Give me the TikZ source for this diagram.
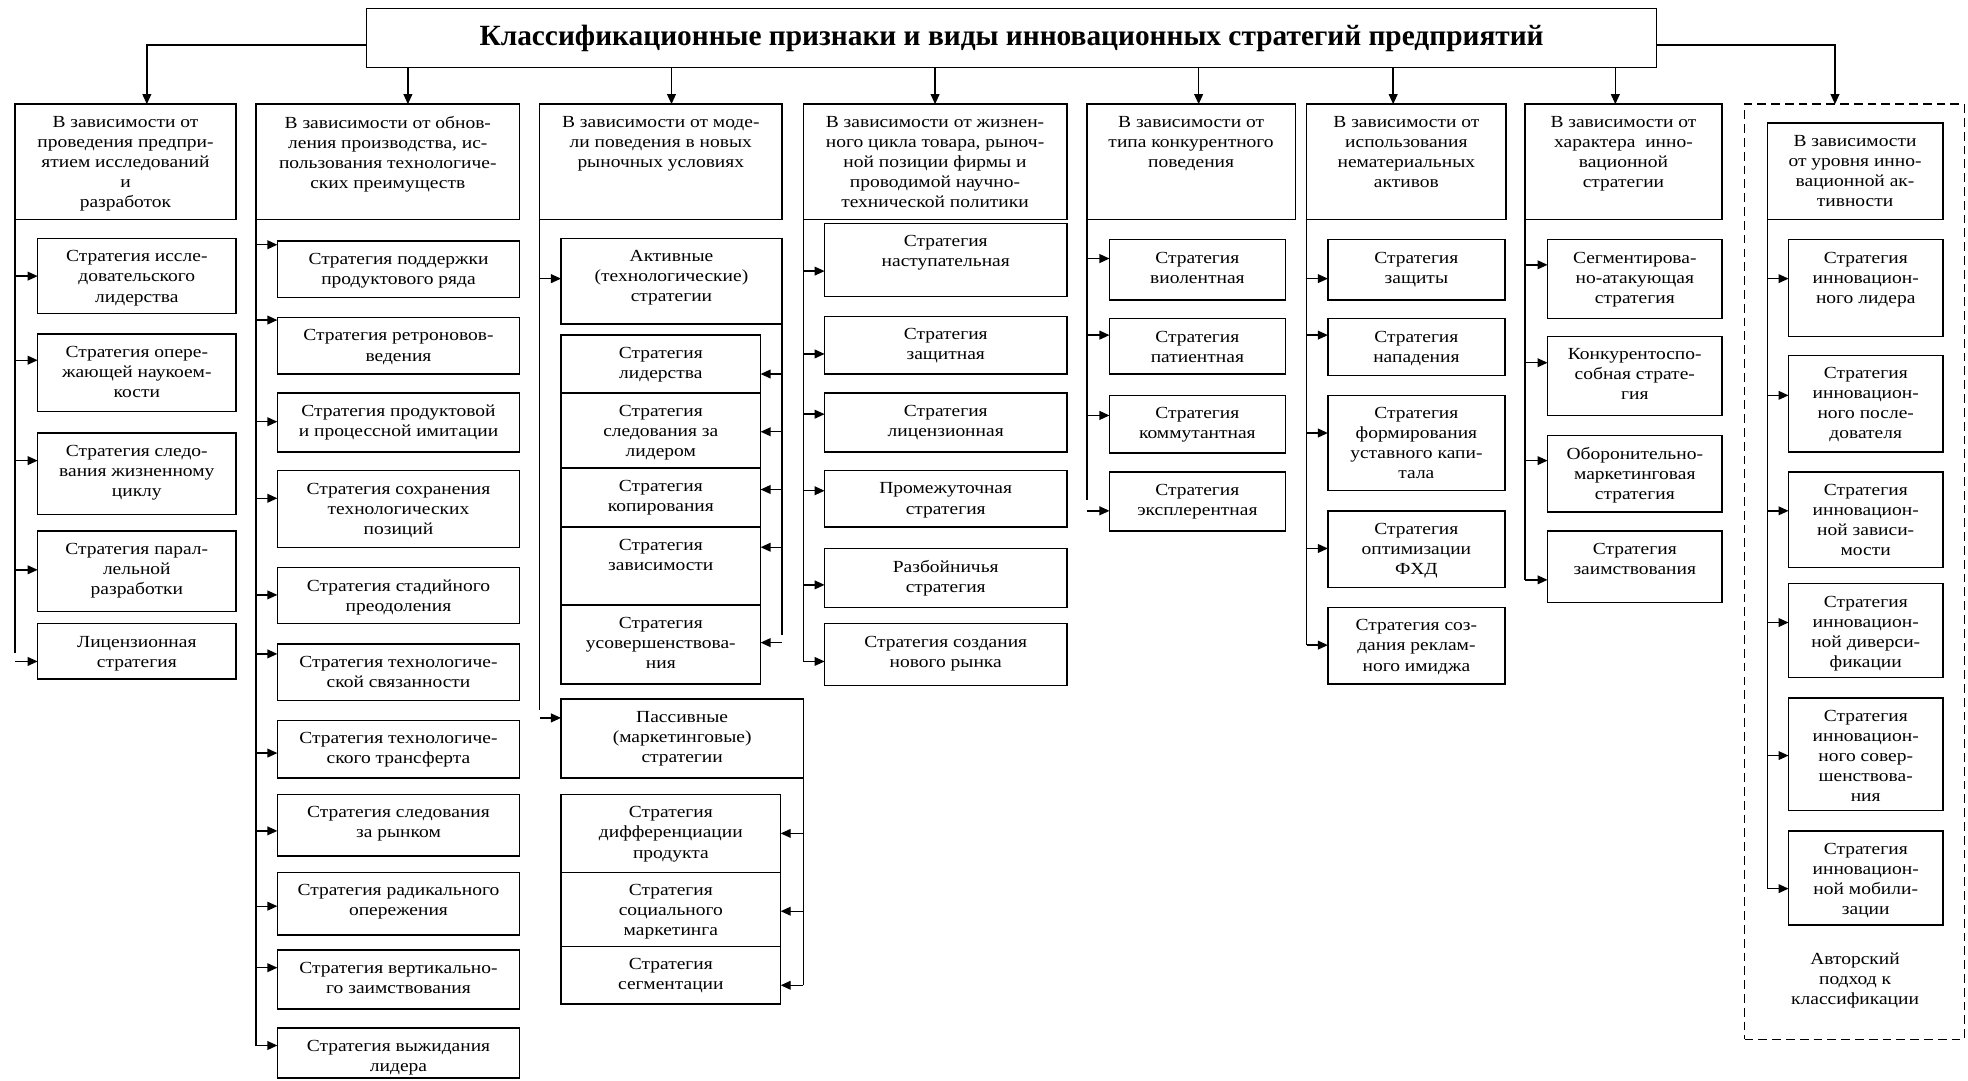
\documentclass[tikz,border=0pt]{standalone}
\usepackage{fontspec}
\setmainfont{Liberation Serif}
\newfontfamily\bodyfont{Liberation Serif}[FakeStretch=1.15]
\usetikzlibrary{arrows.meta}
\tikzset{
  box/.style={draw, line width=1.1pt, inner sep=0pt, outer sep=0pt, anchor=north west},
  txt/.style={align=center, inner sep=0pt, anchor=north, font=\bodyfont\fontsize{13.5}{16}\selectfont},
  arr/.style={line width=1.1pt, -{Triangle[length=8pt,width=7pt]}},
  ln/.style={line width=1.1pt},
}
\newcommand\bx[6]{%
  \node[box, minimum width={(#4)-(#2)}, minimum height={(#5)-(#3)}] (#1) at (#2,#3) {};
  \node[txt] (#1t) at ([yshift=-9.5pt]#1.north) {#6};
}
\newcommand\rarr[3]{\draw[arr] (#1 |- 0,#3) -- (#2.west |- 0,#3);}
\newcommand\larr[3]{\draw[arr] (#1 |- 0,#3) -- (#2.east |- 0,#3);}
\begin{document}
\begin{tikzpicture}[x=1pt,y=-1pt]
\useasboundingbox (0,0) rectangle (1568,861);
% title
\node[box, minimum width=1028, minimum height=47] (title) at (292,7) {};
\node[font=\fontsize{23.4}{27}\selectfont\bfseries, inner sep=0pt] (titlet) at (title.center) {Классификационные признаки и виды инновационных стратегий предприятий};
% column 1
\bx{h1}{12}{83}{188}{175}{В зависимости от\\проведения предпри-\\ятием исследований\\и\\разработок}
\bx{a1}{30}{190}{188}{250}{Стратегия иссле-\\довательского\\лидерства}
\bx{a2}{30}{266}{188}{328}{Стратегия опере-\\жающей наукоем-\\кости}
\bx{a3}{30}{345}{188}{410}{Стратегия следо-\\вания жизненному\\циклу}
\bx{a4}{30}{423}{188}{487}{Стратегия парал-\\лельной\\разработки}
\bx{a5}{30}{497}{188}{541}{Лицензионная\\стратегия}
% column 2
\bx{h2}{204}{83}{414}{175}{В зависимости от обнов-\\ления производства, ис-\\пользования технологиче-\\ских преимуществ}
\bx{b1}{221}{192}{414}{237}{Стратегия поддержки\\продуктового ряда}
\bx{b2}{221}{253}{414}{298}{Стратегия ретроновов-\\ведения}
\bx{b3}{221}{313}{414}{360}{Стратегия продуктовой\\и процессной имитации}
\bx{b4}{221}{375}{414}{436}{Стратегия сохранения\\технологических\\позиций}
\bx{b5}{221}{452}{414}{497}{Стратегия стадийного\\преодоления}
\bx{b6}{221}{513}{414}{558}{Стратегия технологиче-\\ской связанности}
\bx{b7}{221}{574}{414}{620}{Стратегия технологиче-\\ского трансферта}
\bx{b8}{221}{633}{414}{682}{Стратегия следования\\за рынком}
\bx{b9}{221}{695}{414}{745}{Стратегия радикального\\опережения}
\bx{b10}{221}{757}{414}{804}{Стратегия вертикально-\\го заимствования}
\bx{b11}{221}{819}{414}{859}{Стратегия выжидания\\лидера}
% column 3
\bx{h3}{430}{83}{623}{175}{В зависимости от моде-\\ли поведения в новых\\рыночных условиях}
\bx{act}{447}{190}{623}{258}{Активные\\(технологические)\\стратегии}
\bx{s1}{447}{267}{606}{313}{Стратегия\\лидерства}
\bx{s2}{447}{313}{606}{373}{Стратегия\\следования за\\лидером}
\bx{s3}{447}{373}{606}{420}{Стратегия\\копирования}
\bx{s4}{447}{420}{606}{482}{Стратегия\\зависимости}
\bx{s5}{447}{482}{606}{545}{Стратегия\\усовершенствова-\\ния}
\bx{pas}{447}{557}{640}{620}{Пассивные\\(маркетинговые)\\стратегии}
\bx{p1}{447}{633}{622}{695}{Стратегия\\дифференциации\\продукта}
\bx{p2}{447}{695}{622}{754}{Стратегия\\социального\\маркетинга}
\bx{p3}{447}{754}{622}{800}{Стратегия\\сегментации}
% column 4
\bx{h4}{640}{83}{850}{175}{В зависимости от жизнен-\\ного цикла товара, рыноч-\\ной позиции фирмы и\\проводимой научно-\\технической политики}
\bx{d1}{657}{178}{850}{236}{Стратегия\\наступательная}
\bx{d2}{657}{252}{850}{298}{Стратегия\\защитная}
\bx{d3}{657}{313}{850}{360}{Стратегия\\лицензионная}
\bx{d4}{657}{375}{850}{420}{Промежуточная\\стратегия}
\bx{d5}{657}{437}{850}{484}{Разбойничья\\стратегия}
\bx{d6}{657}{497}{850}{546}{Стратегия создания\\нового рынка}
% column 5
\bx{h5}{866}{83}{1032}{175}{В зависимости от\\типа конкурентного\\поведения}
\bx{e1}{884}{191}{1024}{239}{Стратегия\\виолентная}
\bx{e2}{884}{254}{1024}{298}{Стратегия\\патиентная}
\bx{e3}{884}{315}{1024}{361}{Стратегия\\коммутантная}
\bx{e4}{884}{376}{1024}{423}{Стратегия\\эксплерентная}
% column 6
\bx{h6}{1041}{83}{1200}{175}{В зависимости от\\использования\\нематериальных\\активов}
\bx{f1}{1058}{191}{1199}{239}{Стратегия\\защиты}
\bx{f2}{1058}{254}{1199}{299}{Стратегия\\нападения}
\bx{f3}{1058}{315}{1199}{391}{Стратегия\\формирования\\уставного капи-\\тала}
\bx{f4}{1058}{407}{1199}{468}{Стратегия\\оптимизации\\ФХД}
\bx{f5}{1058}{484}{1199}{545}{Стратегия соз-\\дания реклам-\\ного имиджа}
% column 7
\bx{h7}{1215}{83}{1372}{175}{В зависимости от\\характера \ инно-\\вационной\\стратегии}
\bx{g1}{1233}{191}{1372}{254}{Сегментирова-\\но-атакующая\\стратегия}
\bx{g2}{1233}{268}{1372}{331}{Конкурентоспо-\\собная страте-\\гия}
\bx{g3}{1233}{347}{1372}{408}{Оборонительно-\\маркетинговая\\стратегия}
\bx{g4}{1233}{423}{1372}{480}{Стратегия\\заимствования}
% column 8
\node[box, dash pattern=on 7pt off 4pt, minimum width=175, minimum height=745] (grp) at (1390,83) {};
\bx{h8}{1408}{98}{1548}{175}{В зависимости\\от уровня инно-\\вационной ак-\\тивности}
\bx{k1}{1425}{191}{1548}{268}{Стратегия\\инновацион-\\ного лидера}
\bx{k2}{1425}{283}{1548}{360}{Стратегия\\инновацион-\\ного после-\\дователя}
\bx{k3}{1425}{376}{1548}{452}{Стратегия\\инновацион-\\ной зависи-\\мости}
\bx{k4}{1425}{465}{1548}{540}{Стратегия\\инновацион-\\ной диверси-\\фикации}
\bx{k5}{1425}{556}{1548}{646}{Стратегия\\инновацион-\\ного совер-\\шенствова-\\ния}
\bx{k6}{1425}{662}{1548}{737}{Стратегия\\инновацион-\\ной мобили-\\зации}
\node[txt] (auth) at (1478,759) {Авторский\\подход к\\классификации};
% top connectors
\draw[arr] (title.west |- 0,36) -| (h1.north -| 117,0);
\draw[arr] (title.east |- 0,36) -| (grp.north -| 1462,0);
\foreach \xx/\hh in {325/h2,535/h3,745/h4,955/h5,1110/h6,1287/h7}
  {\draw[arr] (title.south -| \xx,0) -- (\hh.north -| \xx,0);}
% column 1 connectors
\draw[ln] (h1.south west) -- (h1.south west |- 0,520);
\rarr{h1.south west}{a1}{220}
\rarr{h1.south west}{a2}{287}
\rarr{h1.south west}{a3}{367}
\rarr{h1.south west}{a4}{454}
\rarr{h1.south west}{a5}{527}
% column 2 connectors
\draw[ln] (h2.south west) -- (h2.south west |- 0,833);
\foreach \nn/\yy in {b1/195,b2/255,b3/336,b4/397,b5/474,b6/521,b7/600,b8/662,b9/722,b10/771,b11/833}
  {\rarr{h2.south west}{\nn}{\yy}}
% column 3 connectors
\draw[ln] (h3.south west) -- (h3.south west |- 0,566);
\rarr{h3.south west}{act}{222}
\rarr{h3.south west}{pas}{572}
\draw[ln] (act.south east) -- (act.south east |- 0,506);
\foreach \nn/\yy in {s1/298,s2/344,s3/390,s4/436,s5/512}
  {\larr{act.south east}{\nn}{\yy}}
\draw[ln] (pas.south east) -- (pas.south east |- 0,785);
\foreach \nn/\yy in {p1/664,p2/726,p3/785}
  {\larr{pas.south east}{\nn}{\yy}}
% column 4 connectors
\draw[ln] (h4.south west) -- (h4.south west |- 0,527);
\foreach \nn/\yy in {d1/216,d2/282,d3/330,d4/391,d5/466,d6/527}
  {\rarr{h4.south west}{\nn}{\yy}}
% column 5 connectors
\draw[ln] (h5.south west) -- (h5.south west |- 0,398);
\foreach \nn/\yy in {e1/206,e2/267,e3/331,e4/407}
  {\rarr{h5.south west}{\nn}{\yy}}
% column 6 connectors
\draw[ln] (h6.south west) -- (h6.south west |- 0,514);
\foreach \nn/\yy in {f1/222,f2/267,f3/345,f4/437,f5/514}
  {\rarr{h6.south west}{\nn}{\yy}}
% column 7 connectors
\draw[ln] (h7.south west) -- (h7.south west |- 0,462);
\foreach \nn/\yy in {g1/211,g2/289,g3/367,g4/462}
  {\rarr{h7.south west}{\nn}{\yy}}
% column 8 connectors
\draw[ln] (h8.south west) -- (h8.south west |- 0,708);
\foreach \nn/\yy in {k1/222,k2/315,k3/407,k4/496,k5/602,k6/708}
  {\rarr{h8.south west}{\nn}{\yy}}
\end{tikzpicture}
\end{document}
